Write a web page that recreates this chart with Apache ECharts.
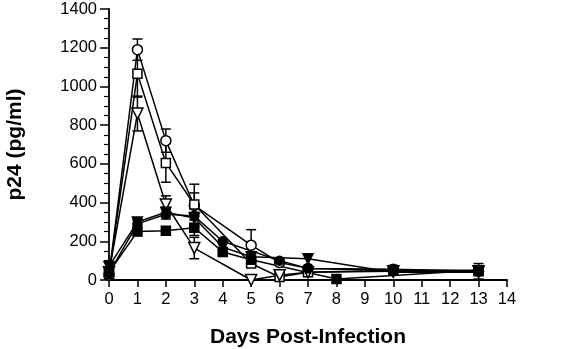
<!DOCTYPE html>
<html>
<head>
<meta charset="utf-8">
<script src="https://cdn.jsdelivr.net/npm/echarts@6/dist/echarts.min.js"></script>
<style>
  html, body { margin: 0; padding: 0; background: #fff; }
  #chart { width: 576px; height: 349px; }
</style>
</head>
<body>
<div id="chart"></div>
<script>
// p24 per group: [day, mean, sd]
var openCircle = [[0, 25, 0], [1, 1190, 55], [2, 720, 60], [3, 385, 110], [5, 180, 80], [6, 90, 0], [7, 60, 0], [10, 55, 20], [13, 45, 20]]
var openSquare = [[0, 30, 0], [1, 1065, 120], [2, 605, 100], [3, 390, 60], [5, 85, 0], [6, 15, 0], [7, 40, 0], [10, 50, 0], [13, 45, 40]]
var openTriangle = [[0, 40, 0], [1, 860, 90], [2, 390, 45], [3, 165, 55], [5, 0, 0], [6, 25, 0], [7, 40, 0], [10, 45, 0], [13, 45, 0]]
var filledCircle = [[0, 35, 0], [1, 290, 20], [2, 340, 25], [3, 330, 0], [4, 200, 0], [6, 100, 0], [7, 60, 0], [10, 50, 0], [13, 50, 0]]
var filledSquare = [[0, 40, 0], [1, 250, 20], [2, 255, 0], [3, 270, 40], [4, 145, 0], [5, 105, 0], [8, 5, 0], [13, 50, 0]]
var filledTriangle = [[0, 70, 0], [1, 300, 15], [2, 350, 25], [3, 320, 30], [4, 170, 0], [5, 120, 0], [7, 110, 0], [10, 40, 0], [13, 40, 0]]

var groups = [
  { name: 'open circle', data: openCircle, symbol: 'circle', fill: '#fff', rot: 0, size: 10 },
  { name: 'open square', data: openSquare, symbol: 'rect', fill: '#fff', rot: 0, size: 9 },
  { name: 'open triangle', data: openTriangle, symbol: 'triangle', fill: '#fff', rot: 180, size: 11 },
  { name: 'filled circle', data: filledCircle, symbol: 'circle', fill: '#000', rot: 0, size: 9 },
  { name: 'filled square', data: filledSquare, symbol: 'rect', fill: '#000', rot: 0, size: 9 },
  { name: 'filled triangle', data: filledTriangle, symbol: 'triangle', fill: '#000', rot: 180, size: 10 },
]

var chart = echarts.init(document.getElementById('chart'))

var series = []
groups.forEach(function (g) {
  // error bars first, markers on top
  series.push({
    type: 'custom',
    name: g.name + ' sd',
    z: 1,
    silent: true,
    renderItem: function (params, api) {
      var x = api.value(0)
      var lo = api.coord([x, api.value(1)])
      var hi = api.coord([x, api.value(2)])
      var w = 5
      var style = { stroke: '#000', lineWidth: 1.5 }
      return {
        type: 'group',
        children: [
          { type: 'line', shape: { x1: lo[0], y1: lo[1], x2: hi[0], y2: hi[1] }, style: style },
          { type: 'line', shape: { x1: hi[0] - w, y1: hi[1], x2: hi[0] + w, y2: hi[1] }, style: style },
          { type: 'line', shape: { x1: lo[0] - w, y1: lo[1], x2: lo[0] + w, y2: lo[1] }, style: style },
        ],
      }
    },
    data: g.data.filter(function (d) { return d[2] > 0 }).map(function (d) {
      return [d[0], Math.max(0, d[1] - d[2]), d[1] + d[2]]
    }),
  })
  series.push({
    type: 'line',
    name: g.name,
    z: 3,
    symbol: g.symbol,
    symbolSize: g.size,
    symbolRotate: g.rot,
    showAllSymbol: true,
    lineStyle: { color: '#000', width: 1.5 },
    itemStyle: { color: g.fill, borderColor: '#000', borderWidth: 1.5 },
    data: g.data.map(function (d) { return [d[0], d[1]] }),
  })
})

chart.setOption({
  animation: false,
  grid: { left: 109, right: 69, top: 9, bottom: 69, outerBoundsMode: 'none' },
  xAxis: {
    type: 'value',
    min: 0,
    max: 14,
    interval: 1,
    name: 'Days Post-Infection',
    nameLocation: 'middle',
    nameGap: 47,
    nameTextStyle: { fontFamily: 'Liberation Sans', fontWeight: 'bold', fontSize: 21, color: '#000' },
    axisLine: { onZero: false, lineStyle: { color: '#000', width: 1.8 } },
    axisTick: { length: 7, lineStyle: { color: '#000', width: 1.5 } },
    axisLabel: { fontFamily: 'Liberation Sans', fontSize: 16.5, color: '#000', margin: 11 },
    splitLine: { show: false },
  },
  yAxis: {
    type: 'value',
    min: 0,
    max: 1400,
    interval: 200,
    name: 'p24 (pg/ml)',
    nameLocation: 'middle',
    nameGap: 83,
    nameTextStyle: { fontFamily: 'Liberation Sans', fontWeight: 'bold', fontSize: 21, color: '#000' },
    axisLine: { show: true, lineStyle: { color: '#000', width: 1.8 } },
    axisTick: { length: 9, lineStyle: { color: '#000', width: 1.5 } },
    minorTick: { show: true, splitNumber: 4, length: 5, lineStyle: { color: '#000', width: 1.2 } },
    axisLabel: {
      fontFamily: 'Liberation Sans', fontSize: 16.5, color: '#000', margin: 12,
      formatter: function (v) { return String(v) },
    },
    splitLine: { show: false },
  },
  series: series,
})
</script>
</body>
</html>
